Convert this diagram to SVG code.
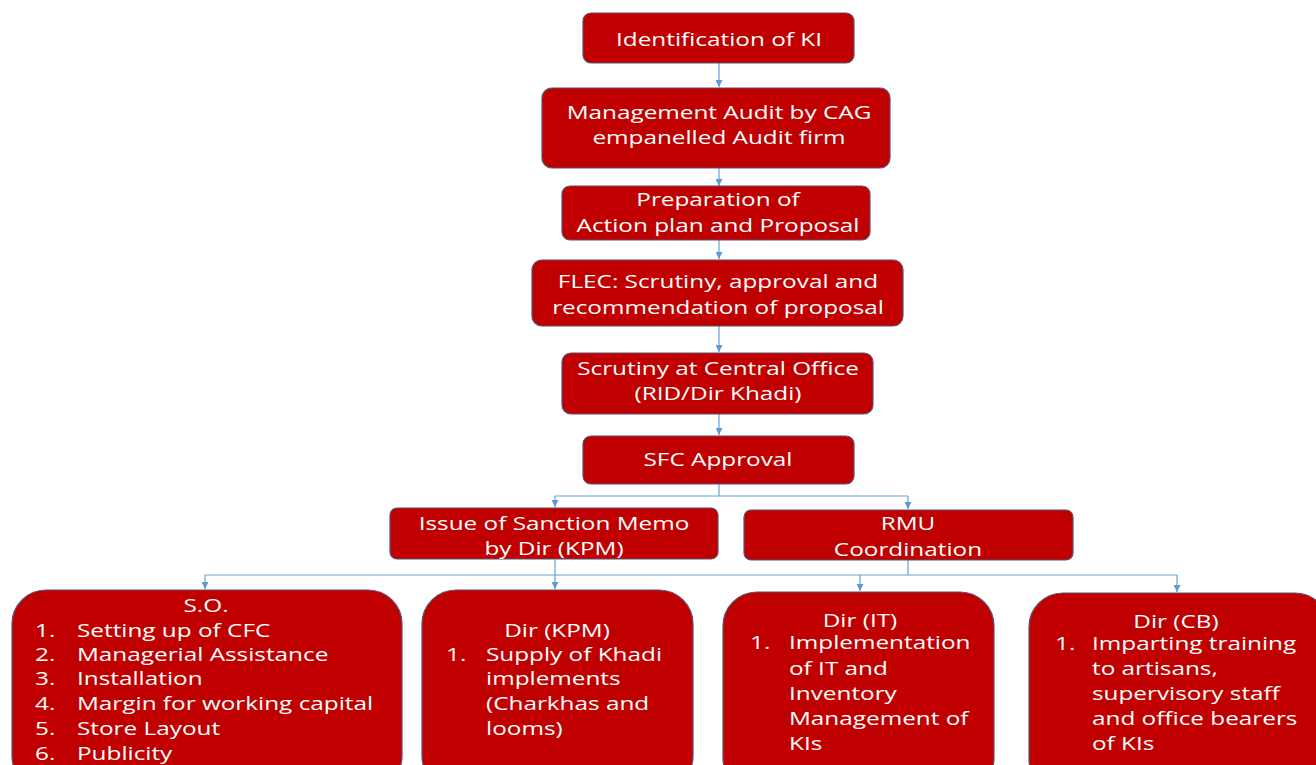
<svg xmlns="http://www.w3.org/2000/svg" width="1316" height="765" viewBox="0 0 1316 765">
<style>
.b{fill:#C00000;stroke:#5f4f6f;stroke-width:1.2}
.t{font-family:"Open Sans","Liberation Sans",sans-serif;font-size:19px;fill:#fff}
.c{text-anchor:middle}
.k{fill:none;stroke:#6a9fd4;stroke-width:1.2}
</style>
<defs>
<marker id="a" viewBox="0 0 10 10" refX="10" refY="5" markerWidth="7" markerHeight="7" markerUnits="userSpaceOnUse" orient="auto">
<path d="M0,0 L10,5 L0,10 z" fill="#5b9bd5"/>
</marker>
</defs>
<rect width="1316" height="765" fill="#fff"/>
<g id="connectors">
<path class="k" d="M719,63 V87" marker-end="url(#a)"/>
<path class="k" d="M719,168 V186" marker-end="url(#a)"/>
<path class="k" d="M719,240 V259" marker-end="url(#a)"/>
<path class="k" d="M719,326 V352" marker-end="url(#a)"/>
<path class="k" d="M719,402 V435" marker-end="url(#a)"/>
<path class="k" d="M719,484 V496 M555,496 H908"/>
<path class="k" d="M555,496 V507" marker-end="url(#a)"/>
<path class="k" d="M908,496 V509" marker-end="url(#a)"/>
<path class="k" d="M555,560 V575 M908,560 V575 M205,575 H1177"/>
<path class="k" d="M205,575 V589" marker-end="url(#a)"/>
<path class="k" d="M555,575 V589" marker-end="url(#a)"/>
<path class="k" d="M860,575 V591" marker-end="url(#a)"/>
<path class="k" d="M1177,575 V592" marker-end="url(#a)"/>
</g>
<g id="n1"><rect class="b" x="583" y="13" width="271" height="50" rx="8"/>
<text class="t c" transform="matrix(1.28 0 0 1 719 46)">Identification of KI</text></g>
<g id="n2"><rect class="b" x="542" y="88" width="348" height="80" rx="10"/>
<text class="t c" transform="matrix(1.28 0 0 1 719 119)">Management Audit by CAG</text>
<text class="t c" transform="matrix(1.28 0 0 1 719 144)">empanelled Audit firm</text></g>
<g id="n3"><rect class="b" x="562" y="186" width="308" height="54" rx="8"/>
<text class="t c" transform="matrix(1.28 0 0 1 718 206)">Preparation of</text>
<text class="t c" transform="matrix(1.28 0 0 1 718 232)">Action plan and Proposal</text></g>
<g id="n4"><rect class="b" x="532" y="260" width="371" height="66" rx="10"/>
<text class="t c" transform="matrix(1.28 0 0 1 718 288)">FLEC: Scrutiny, approval and</text>
<text class="t c" transform="matrix(1.28 0 0 1 718 314)">recommendation of proposal</text></g>
<g id="n5"><rect class="b" x="562" y="353" width="311" height="61" rx="9"/>
<text class="t c" transform="matrix(1.28 0 0 1 718 375)">Scrutiny at Central Office</text>
<text class="t c" transform="matrix(1.28 0 0 1 718 400)">(RID/Dir Khadi)</text></g>
<g id="n6"><rect class="b" x="583" y="436" width="271" height="48" rx="8"/>
<text class="t c" transform="matrix(1.28 0 0 1 718 466)">SFC Approval</text></g>
<g id="n7"><rect class="b" x="390" y="508" width="328" height="51" rx="7"/>
<text class="t c" transform="matrix(1.28 0 0 1 554 530)">Issue of Sanction Memo</text>
<text class="t c" transform="matrix(1.28 0 0 1 554 555)">by Dir (KPM)</text></g>
<g id="n8"><rect class="b" x="744" y="510" width="329" height="50" rx="7"/>
<text class="t c" transform="matrix(1.28 0 0 1 908 530)">RMU</text>
<text class="t c" transform="matrix(1.28 0 0 1 908 556)">Coordination</text></g>
<g id="n9"><rect class="b" x="12" y="590" width="390" height="200" rx="34"/>
<text class="t c" transform="matrix(1.28 0 0 1 206 612)">S.O.</text>
<text class="t" transform="matrix(1.28 0 0 1 35 637)">1.</text><text class="t" transform="matrix(1.28 0 0 1 77 637)">Setting up of CFC</text>
<text class="t" transform="matrix(1.28 0 0 1 35 661)">2.</text><text class="t" transform="matrix(1.28 0 0 1 77 661)">Managerial Assistance</text>
<text class="t" transform="matrix(1.28 0 0 1 35 685)">3.</text><text class="t" transform="matrix(1.28 0 0 1 77 685)">Installation</text>
<text class="t" transform="matrix(1.28 0 0 1 35 710)">4.</text><text class="t" transform="matrix(1.28 0 0 1 77 710)">Margin for working capital</text>
<text class="t" transform="matrix(1.28 0 0 1 35 735)">5.</text><text class="t" transform="matrix(1.28 0 0 1 77 735)">Store Layout</text>
<text class="t" transform="matrix(1.28 0 0 1 35 760)">6.</text><text class="t" transform="matrix(1.28 0 0 1 77 760)">Publicity</text></g>
<g id="n10"><rect class="b" x="422" y="590" width="271" height="200" rx="34"/>
<text class="t c" transform="matrix(1.28 0 0 1 557 637)">Dir (KPM)</text>
<text class="t" transform="matrix(1.28 0 0 1 446 661)">1.</text><text class="t" transform="matrix(1.28 0 0 1 486 661)">Supply of Khadi</text>
<text class="t" transform="matrix(1.28 0 0 1 486 685)">implements</text>
<text class="t" transform="matrix(1.28 0 0 1 486 710)">(Charkhas and</text>
<text class="t" transform="matrix(1.28 0 0 1 486 735)">looms)</text></g>
<g id="n11"><rect class="b" x="723" y="592" width="271" height="200" rx="34"/>
<text class="t c" transform="matrix(1.28 0 0 1 860 627)">Dir (IT)</text>
<text class="t" transform="matrix(1.28 0 0 1 750 649)">1.</text><text class="t" transform="matrix(1.28 0 0 1 789 649)">Implementation</text>
<text class="t" transform="matrix(1.28 0 0 1 789 675)">of IT and</text>
<text class="t" transform="matrix(1.28 0 0 1 789 700)">Inventory</text>
<text class="t" transform="matrix(1.28 0 0 1 789 725)">Management of</text>
<text class="t" transform="matrix(1.28 0 0 1 789 750)">KIs</text></g>
<g id="n12"><rect class="b" x="1029" y="593" width="300" height="200" rx="34"/>
<text class="t c" transform="matrix(1.28 0 0 1 1176 628)">Dir (CB)</text>
<text class="t" transform="matrix(1.28 0 0 1 1055 650)">1.</text><text class="t" transform="matrix(1.28 0 0 1 1092 650)">Imparting training</text>
<text class="t" transform="matrix(1.28 0 0 1 1092 675)">to artisans,</text>
<text class="t" transform="matrix(1.28 0 0 1 1092 700)">supervisory staff</text>
<text class="t" transform="matrix(1.28 0 0 1 1092 725)">and office bearers</text>
<text class="t" transform="matrix(1.28 0 0 1 1092 750)">of KIs</text></g>
</svg>
